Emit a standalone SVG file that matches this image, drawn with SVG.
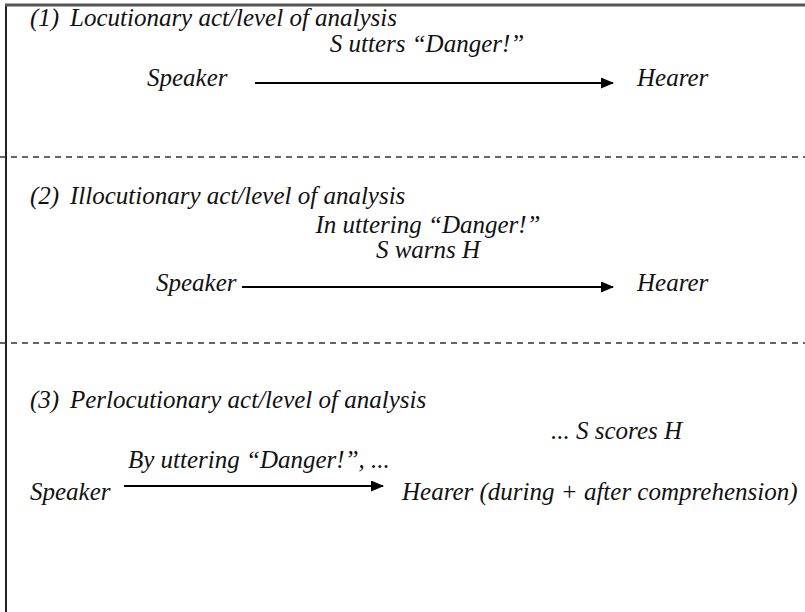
<svg xmlns="http://www.w3.org/2000/svg" width="805" height="612" viewBox="0 0 805 612">
<style>
text{font-family:"Liberation Serif","Times New Roman",serif;font-style:italic;font-size:25px;fill:#111}
.c{text-anchor:middle}
.left{stroke:#222;stroke-width:2;fill:none}
.top{stroke:#555;stroke-width:3;fill:none}
.dash{stroke:#333;stroke-width:1.5;stroke-dasharray:6 5;fill:none}
.arr{stroke:#000;stroke-width:2;fill:none;marker-end:url(#ah)}
</style>
<defs>
<marker id="ah" markerWidth="13" markerHeight="11" refX="12" refY="5.5" orient="auto" markerUnits="userSpaceOnUse">
<path d="M0,0 L13,5.5 L0,11 Z" fill="#000"/>
</marker>
</defs>
<rect width="805" height="612" fill="#fff"/>
<g id="frame">
<path class="left" d="M6,612 V4"/>
<path class="top" d="M5,5 H805"/>
<path class="dash" d="M0,157 H805"/>
<path class="dash" d="M0,343 H805"/>
</g>
<g id="section1">
<text x="30" y="26">(1)<tspan x="70">Locutionary act/level of analysis</tspan></text>
<text class="c" x="427" y="52">S utters “Danger!”</text>
</g>
<g id="speaker1"><text x="147" y="86">Speaker</text></g>
<g id="hearer1"><text x="637" y="86">Hearer</text></g>
<g id="section2">
<text x="30" y="204">(2)<tspan x="70">Illocutionary act/level of analysis</tspan></text>
<text class="c" x="428" y="233">In uttering “Danger!”</text>
<text class="c" x="428" y="258">S warns H</text>
</g>
<g id="speaker2"><text x="156" y="291">Speaker</text></g>
<g id="hearer2"><text x="637" y="291">Hearer</text></g>
<g id="section3">
<text x="30" y="408">(3)<tspan x="70">Perlocutionary act/level of analysis</tspan></text>
<text x="551" y="439">... S scores H</text>
<text x="128" y="468">By uttering “Danger!”, ...</text>
</g>
<g id="speaker3"><text x="30" y="500">Speaker</text></g>
<g id="hearer3"><text x="402" y="500">Hearer (during + after comprehension)</text></g>
<g id="connectors">
<path class="arr" d="M255,83 H613"/>
<path class="arr" d="M242,287 H613"/>
<path class="arr" d="M124,486 H383"/>
</g>
</svg>
